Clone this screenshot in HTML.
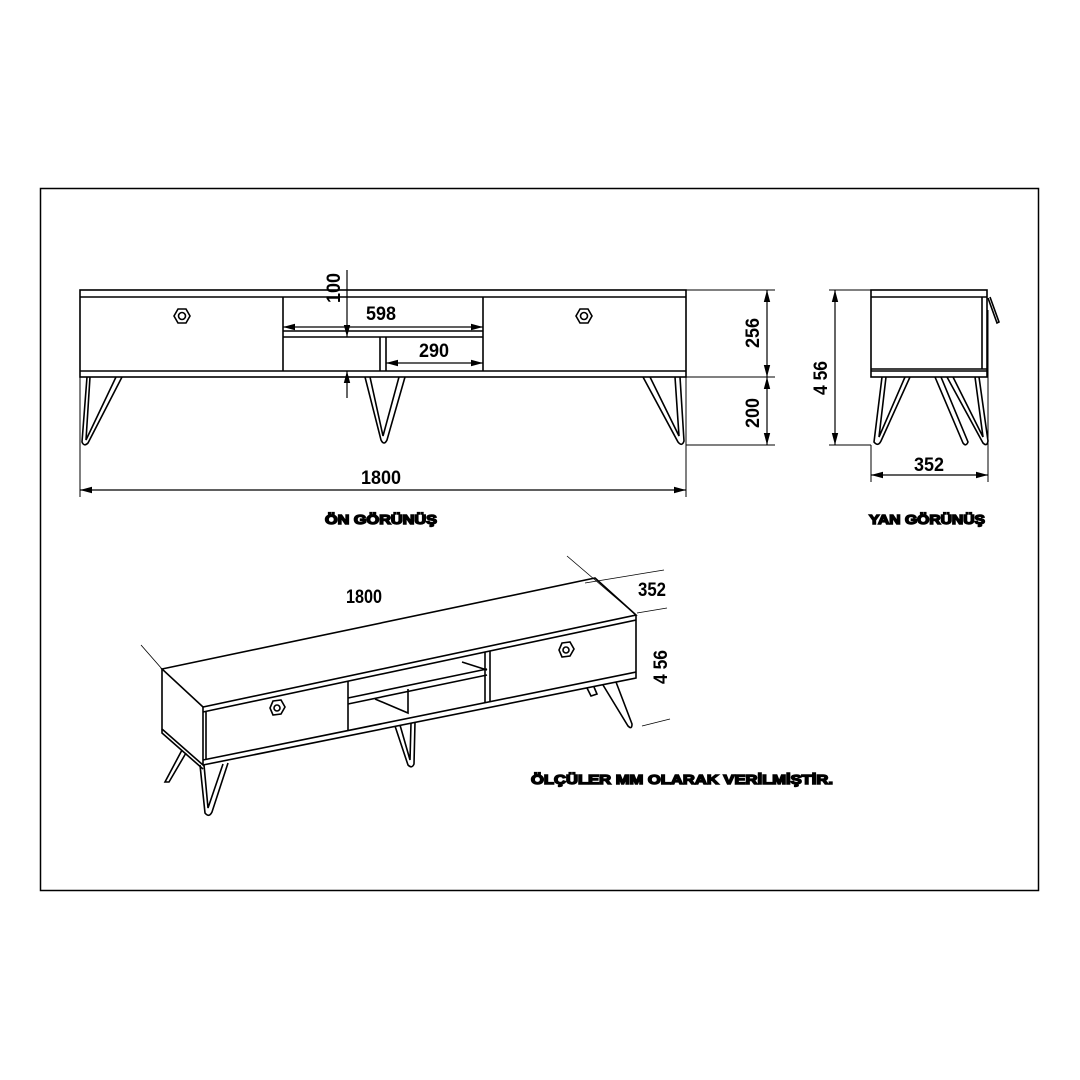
<!DOCTYPE html>
<html><head><meta charset="utf-8"><style>
html,body{margin:0;padding:0;background:#fff;}
svg{display:block}
.n{font-family:"Liberation Sans Narrow","Liberation Sans",sans-serif;font-weight:bold;font-size:19px;fill:#000}
.t{font-family:"Liberation Sans",sans-serif;font-weight:bold;font-size:13px;fill:#000;stroke:#000;stroke-width:1.4}
</style></head><body>
<svg width="1080" height="1080" viewBox="0 0 1080 1080" xmlns="http://www.w3.org/2000/svg">
<defs>
<marker id="a" viewBox="0 0 12 8" refX="12" refY="4" markerWidth="12" markerHeight="8" orient="auto-start-reverse" markerUnits="userSpaceOnUse"><path d="M0,0.8 L12,4 L0,7.2 Z" fill="#000"/></marker>
</defs>
<rect x="40.5" y="188.5" width="998" height="702" fill="none" stroke="#000" stroke-width="1.5"/>
<g fill="none" stroke="#000" stroke-width="1.6">
<!-- FRONT VIEW -->
<rect x="80" y="290" width="606" height="87"/>
<line x1="80" y1="297" x2="686" y2="297"/>
<line x1="80" y1="371" x2="686" y2="371"/>
<line x1="283" y1="297" x2="283" y2="371"/>
<line x1="483" y1="297" x2="483" y2="371"/>
<line x1="283" y1="331" x2="483" y2="331"/>
<line x1="283" y1="337" x2="483" y2="337"/>
<line x1="380" y1="337" x2="380" y2="371"/>
<line x1="386" y1="337" x2="386" y2="371"/>
<polygon points="178,309 186,309 190,316 186,323 178,323 174,316"/>
<circle cx="182" cy="316" r="3.5"/>
<polygon points="580,309 588,309 592,316 588,323 580,323 576,316"/>
<circle cx="584" cy="316" r="3.5"/>
<path d="M87,377 L82,442 Q84,447 88,443 L122,377"/>
<path d="M90,377 L86,440 L116,377"/>
<path d="M365,377 L381,440 Q384,446 387,440 L405,377"/>
<path d="M370,377 L383,436 L399,377"/>
<path d="M643,377 L678,442 Q682,447 684,441 L680,377"/>
<path d="M650,377 L679,436 L675,377"/>
<line x1="686" y1="290" x2="775" y2="290" stroke-width="1"/>
<line x1="686" y1="377" x2="775" y2="377" stroke-width="1"/>
<line x1="686" y1="445" x2="775" y2="445" stroke-width="1"/>
<line x1="767" y1="290" x2="767" y2="377" stroke-width="1.2" marker-start="url(#a)" marker-end="url(#a)"/>
<line x1="767" y1="377" x2="767" y2="445" stroke-width="1.2" marker-start="url(#a)" marker-end="url(#a)"/>
<line x1="80" y1="377" x2="80" y2="497" stroke-width="1"/>
<line x1="686" y1="377" x2="686" y2="497" stroke-width="1"/>
<line x1="80" y1="490" x2="686" y2="490" stroke-width="1.2" marker-start="url(#a)" marker-end="url(#a)"/>
<line x1="283" y1="327" x2="483" y2="327" stroke-width="1.2" marker-start="url(#a)" marker-end="url(#a)"/>
<line x1="386" y1="363" x2="483" y2="363" stroke-width="1.2" marker-start="url(#a)" marker-end="url(#a)"/>
<line x1="347" y1="270" x2="347" y2="337" stroke-width="1.2" marker-end="url(#a)"/>
<line x1="347" y1="398" x2="347" y2="371" stroke-width="1.2" marker-end="url(#a)"/>
<!-- SIDE VIEW -->
<rect x="871" y="290" width="116" height="87"/>
<line x1="871" y1="297" x2="987" y2="297"/>
<line x1="871" y1="369" x2="987" y2="369"/>
<line x1="871" y1="371" x2="987" y2="371"/>
<line x1="982" y1="297" x2="982" y2="369"/>
<path d="M988,298 L997,323 L999,322 L990,297"/>
<path d="M882,377 L874,442 Q878,447 881,441 L910,377"/>
<path d="M886,377 L879,437 L905,377"/>
<path d="M935,377 L963,443 Q966,447 968,442 L941,377"/>
<path d="M947,377 L983,443 Q987,447 988,441 L979,377"/>
<path d="M953,377 L983,437 L975,377"/>
<line x1="829" y1="290" x2="871" y2="290" stroke-width="1"/>
<line x1="829" y1="445" x2="871" y2="445" stroke-width="1"/>
<line x1="835" y1="290" x2="835" y2="445" stroke-width="1.2" marker-start="url(#a)" marker-end="url(#a)"/>
<line x1="871" y1="445" x2="871" y2="482" stroke-width="1"/>
<line x1="988" y1="310" x2="988" y2="482" stroke-width="1"/>
<line x1="871" y1="475" x2="988" y2="475" stroke-width="1.2" marker-start="url(#a)" marker-end="url(#a)"/>
<!-- ISO VIEW -->
<path d="M162,669 L595,578 L636,615 L203,707 Z"/>
<path d="M203,712 L636,620"/>
<path d="M162,669 L162,729 L203,765 L203,707"/>
<path d="M162,729 L162,733 L203,769"/>
<path d="M203,765 L636,678 L636,615"/>
<path d="M203,760 L636,672"/>
<path d="M206,712 L206,760"/>
<path d="M348,681 L348,731"/>
<path d="M490,651 L490,702"/>
<path d="M485,652 L485,703"/>
<path d="M348,698 L487,669"/>
<path d="M348,704 L487,675"/>
<path d="M375,699 L408,713 L408,689"/>
<path d="M462,662 L487,670"/>
<polygon points="273,701 281,700 285,707 281,714 273,715 270,708"/>
<circle cx="277" cy="708" r="3"/>
<polygon points="562,643 570,642 574,649 570,656 562,657 559,650"/>
<circle cx="566" cy="650" r="3"/>
<path d="M182,750 L165,782 L169,782 L186,753"/>
<path d="M200,765 L205,813 Q209,818 212,812 L228,763"/>
<path d="M204,765 L208,808 L223,764"/>
<path d="M395,726 L408,765 Q412,769 414,764 L415,722"/>
<path d="M400,725 L410,760 L411,723"/>
<path d="M603,685 L628,726 Q632,730 632,724 L616,682"/>
<path d="M587,688 L591,696 L597,694 L594,687"/>
<g stroke-width="0.8">
<line x1="141" y1="645" x2="162" y2="669"/>
<line x1="567" y1="556" x2="636" y2="615"/>
<line x1="585" y1="583" x2="664" y2="570"/>
<line x1="637" y1="613" x2="667" y2="608"/>
<line x1="642" y1="726" x2="670" y2="719"/>
</g>
</g>
<text class="n" x="381" y="320" text-anchor="middle" textLength="30" lengthAdjust="spacingAndGlyphs">598</text>
<text class="n" x="434" y="357" text-anchor="middle" textLength="30" lengthAdjust="spacingAndGlyphs">290</text>
<text class="n" x="381" y="484" text-anchor="middle" textLength="40" lengthAdjust="spacingAndGlyphs">1800</text>
<text class="n" x="929" y="471" text-anchor="middle" textLength="30" lengthAdjust="spacingAndGlyphs">352</text>
<text class="n" transform="translate(340,288) rotate(-90)" text-anchor="middle" textLength="30" lengthAdjust="spacingAndGlyphs">100</text>
<text class="n" transform="translate(759,333) rotate(-90)" text-anchor="middle" textLength="30" lengthAdjust="spacingAndGlyphs">256</text>
<text class="n" transform="translate(759,413) rotate(-90)" text-anchor="middle" textLength="30" lengthAdjust="spacingAndGlyphs">200</text>
<text class="n" transform="translate(827,378) rotate(-90)" text-anchor="middle" textLength="34" lengthAdjust="spacingAndGlyphs">4 56</text>
<text class="n" x="364" y="603" text-anchor="middle" textLength="36" lengthAdjust="spacingAndGlyphs">1800</text>
<text class="n" x="652" y="596" text-anchor="middle" textLength="28" lengthAdjust="spacingAndGlyphs">352</text>
<text class="n" transform="translate(667,667) rotate(-90)" text-anchor="middle" textLength="34" lengthAdjust="spacingAndGlyphs">4 56</text>
<text class="t" x="381" y="524" text-anchor="middle" textLength="112" lengthAdjust="spacingAndGlyphs">ÖN GÖRÜNÜŞ</text>
<text class="t" x="927" y="524" text-anchor="middle" textLength="116" lengthAdjust="spacingAndGlyphs">YAN GÖRÜNÜŞ</text>
<text class="t" x="682" y="784" text-anchor="middle" textLength="302" lengthAdjust="spacingAndGlyphs">ÖLÇÜLER MM OLARAK VERİLMİŞTİR.</text>
</svg>
</body></html>
